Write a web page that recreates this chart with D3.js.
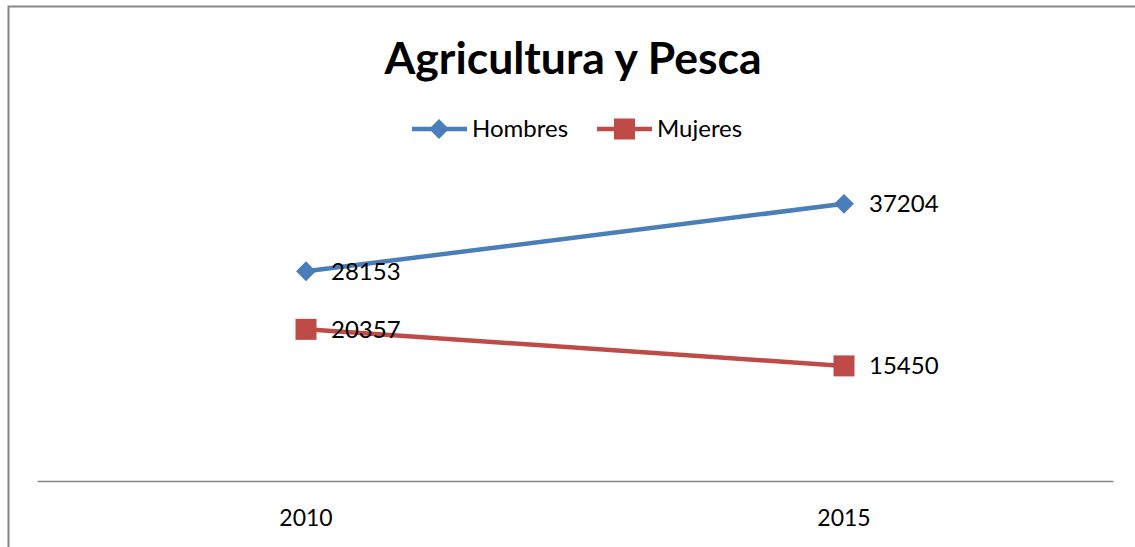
<!DOCTYPE html>
<html>
<head>
<meta charset="utf-8">
<script src="https://cdn.jsdelivr.net/npm/d3@7"></script>
<style>
  body { margin: 0; background: #fff; }
  text { font-family: Lato, "Open Sans", sans-serif; }
</style>
</head>
<body>
<svg id="chart" width="1135" height="547"></svg>
<script>
var years = ["2010", "2015"];
var hombres = [28153, 37204];
var mujeres = [20357, 15450];
var seriesNames = ["Hombres", "Mujeres"];
var colors = ["#4a7ebb", "#be4b48"];

var svg = d3.select("#chart"),
    margin = {top: 183, right: 22, bottom: 66, left: 37},
    width = +svg.attr("width") - margin.left - margin.right,
    height = +svg.attr("height") - margin.top - margin.bottom;

// chart frame
svg.append("rect")
    .attr("x", 8.5).attr("y", 6.5)
    .attr("width", 1140).attr("height", 560)
    .attr("fill", "none").attr("stroke", "#868686").attr("stroke-width", 2);

// title
svg.append("text")
    .attr("x", 573).attr("y", 74)
    .attr("text-anchor", "middle")
    .attr("font-size", 44.5).attr("font-weight", "bold")
    .text("Agricultura y Pesca");

var x = d3.scaleBand().domain(years).range([0, width]).padding(0),
    y = d3.scaleLinear().domain([0, 40000]).range([height, 0]);

var g = svg.append("g")
    .attr("transform", "translate(" + margin.left + "," + margin.top + ")");

// x axis
var xAxis = g.append("g")
    .attr("transform", "translate(0," + height + ")")
    .call(d3.axisBottom(x).tickSize(0).tickPadding(29));
xAxis.select(".domain").attr("stroke", "#868686").attr("stroke-width", 1.5);
xAxis.selectAll("text")
    .attr("font-size", 23).attr("fill", "#000")
    .style("font-family", "Lato, 'Open Sans', sans-serif");

var line = d3.line()
    .x(function(d, i){ return x(years[i]) + x.bandwidth() / 2; })
    .y(function(d){ return y(d); });

var series = [hombres, mujeres];

series.forEach(function(vals, s){
  g.append("path")
      .datum(vals)
      .attr("d", line)
      .attr("fill", "none")
      .attr("stroke", colors[s])
      .attr("stroke-width", 4.5);

  vals.forEach(function(v, i){
    var cx = x(years[i]) + x.bandwidth() / 2, cy = y(v);
    if (s === 0) {
      g.append("path")
          .attr("d", d3.symbol(d3.symbolDiamond2, 250)())
          .attr("transform", "translate(" + cx + "," + cy + ")")
          .attr("fill", colors[s]);
    } else {
      g.append("rect")
          .attr("x", cx - 10.5).attr("y", cy - 10.5)
          .attr("width", 21).attr("height", 21)
          .attr("fill", colors[s]);
    }
    g.append("text")
        .attr("x", cx + 25).attr("y", cy)
        .attr("dy", "0.35em")
        .attr("font-size", 24)
        .text(v);
  });
});

// legend
var legendX = [412, 597];
seriesNames.forEach(function(name, s){
  var lg = svg.append("g").attr("transform", "translate(" + legendX[s] + ",129)");
  lg.append("line")
      .attr("x1", 0).attr("x2", 55)
      .attr("stroke", colors[s]).attr("stroke-width", 4.5);
  if (s === 0) {
    lg.append("path")
        .attr("d", d3.symbol(d3.symbolDiamond2, 250)())
        .attr("transform", "translate(27,0)")
        .attr("fill", colors[s]);
  } else {
    lg.append("rect")
        .attr("x", 17).attr("y", -10.5)
        .attr("width", 21).attr("height", 21)
        .attr("fill", colors[s]);
  }
  lg.append("text")
      .attr("x", 60).attr("dy", "0.35em")
      .attr("font-size", 24)
      .text(name);
});
</script>
</body>
</html>
